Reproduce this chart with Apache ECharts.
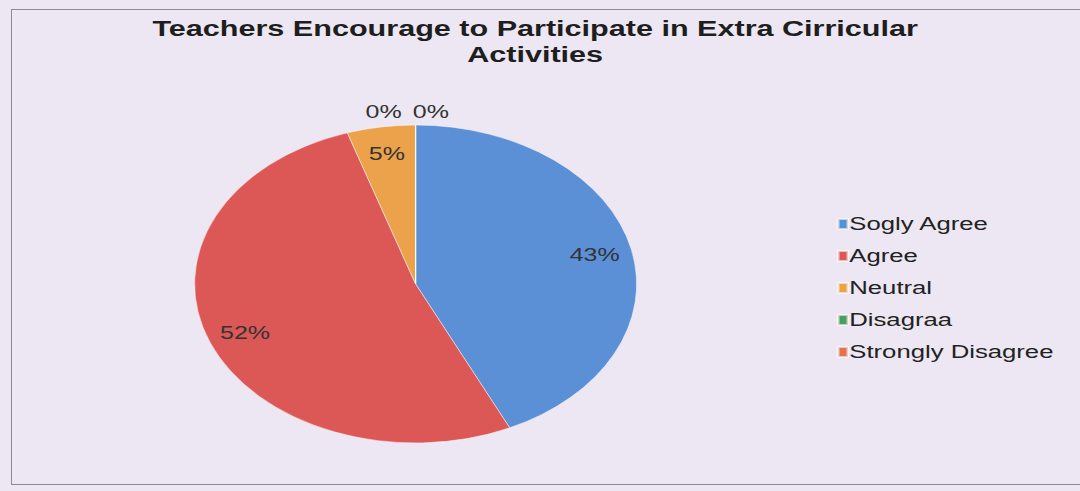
<!DOCTYPE html>
<html>
<head>
<meta charset="utf-8">
<script src="https://cdn.jsdelivr.net/npm/echarts@6/dist/echarts.min.js"></script>
<style>
  html, body { margin: 0; padding: 0; width: 1080px; height: 491px; background: #ece7f2; overflow: hidden; }
  #frame { position: absolute; left: 11px; top: 9px; width: 1100px; height: 476px; border: 1px solid #8c8a92; box-sizing: border-box; }
  /* the reference image is a horizontally stretched scan: draw at natural width and stretch */
  #main { position: absolute; left: 0; top: 0; width: 777px; height: 491px; transform: scaleX(1.39); transform-origin: 0 0; }
</style>
</head>
<body>
<div id="frame"></div>
<div id="main"></div>
<script>
const titleText = 'Teachers Encourage to Participate in Extra Cirricular\nActivities';
const categories = ['Sogly Agree', 'Agree', 'Neutral', 'Disagraa', 'Strongly Disagree'];
const values = [43, 52, 5, 0, 0];
const colors = ['#5b8fd6', '#dc5857', '#eba24b', '#4f9c5c', '#e27452'];

const main = echarts.init(document.getElementById('main'), null, { renderer: 'svg' });
const zeroOffsets = { 3: [-23, -90], 4: [11, -90] };
main.setOption({
  animation: false,
  color: colors,
  title: {
    text: titleText,
    left: 380,
    top: 11,
    textAlign: 'center',
    textStyle: { fontFamily: 'Liberation Sans', fontWeight: 'bold', fontSize: 22, lineHeight: 26, color: '#1e1e1e' }
  },
  legend: {
    orient: 'vertical',
    left: 597,
    top: 209,
    itemWidth: 7,
    itemHeight: 10,
    itemGap: 12,
    icon: 'rect',
    textStyle: { fontFamily: 'Liberation Sans', fontSize: 18.5, lineHeight: 20, color: '#222', padding: [0, 0, 0, -4] },
    data: categories
  },
  series: [{
    type: 'pie',
    center: [299, 284],
    radius: 159,
    startAngle: 90,
    clockwise: true,
    silent: true,
    itemStyle: { borderColor: 'rgba(255,255,255,0.6)', borderWidth: 0.7 },
    label: {
      show: true,
      position: 'inside',
      formatter: '{d}%',
      fontFamily: 'Liberation Sans',
      fontSize: 18,
      color: '#333'
    },
    labelLine: { show: false },
    labelLayout: function (p) {
      const o = zeroOffsets[p.dataIndex];
      if (o) return { dx: o[0], dy: o[1] };
      // Excel places the labels nearer the rim than the mid-radius
      const lx = p.labelRect.x + p.labelRect.width / 2 - 299;
      const ly = p.labelRect.y + p.labelRect.height / 2 - 284;
      const k = 0.6;
      return { dx: lx * k, dy: ly * k };
    },
    data: categories.map((c, i) => ({ name: c, value: values[i] }))
  }]
});
</script>
</body>
</html>
